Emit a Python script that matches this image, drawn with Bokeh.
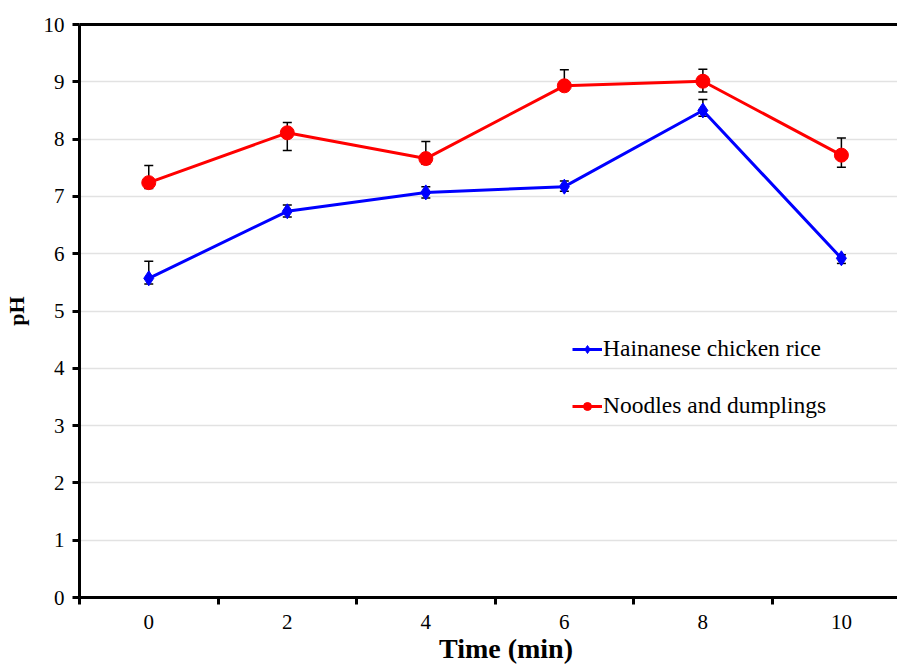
from bokeh.plotting import figure
from bokeh.models import (ColumnDataSource, Whisker, FixedTicker, LinearAxis,
                          Legend, LegendItem, Range1d, TeeHead)
from bokeh.embed import file_html
from bokeh.resources import INLINE

# ---- data ----
time = [0, 2, 4, 6, 8, 10]
hcr_ph = [5.57, 6.74, 7.07, 7.17, 8.50, 5.92]
hcr_err_up = [0.30, 0.11, 0.10, 0.10, 0.19, 0.06]
hcr_err_down = [0.10, 0.10, 0.10, 0.08, 0.10, 0.09]
nd_ph = [7.24, 8.11, 7.66, 8.93, 9.01, 7.72]
nd_err_up = [0.30, 0.18, 0.30, 0.28, 0.21, 0.30]
nd_err_down = [0.10, 0.31, 0.10, 0.08, 0.19, 0.21]
y_ticks = [0, 1, 2, 3, 4, 5, 6, 7, 8, 9, 10]
x_sep_ticks = [-1, 1, 3, 5, 7, 9]

FONT = "'Liberation Serif', 'Times New Roman', serif"

hcr = ColumnDataSource(dict(
    x=time, y=hcr_ph,
    upper=[v + e for v, e in zip(hcr_ph, hcr_err_up)],
    lower=[v - e for v, e in zip(hcr_ph, hcr_err_down)]))
nd = ColumnDataSource(dict(
    x=time, y=nd_ph,
    upper=[v + e for v, e in zip(nd_ph, nd_err_up)],
    lower=[v - e for v, e in zip(nd_ph, nd_err_down)]))

p = figure(width=897, height=666, output_backend="svg", toolbar_location=None,
           x_range=Range1d(-1, 10.81), y_range=Range1d(0, 10),
           min_border_left=79, min_border_top=24, min_border_bottom=68,
           min_border_right=0, outline_line_color=None,
           background_fill_color="white", border_fill_color="white")

# grids
p.xgrid.visible = False
p.ygrid.ticker = FixedTicker(ticks=y_ticks)
p.ygrid.grid_line_color = "#e2e2e2"
p.ygrid.grid_line_width = 1.5

# y axis
ya = p.yaxis[0]
ya.ticker = FixedTicker(ticks=y_ticks)
ya.axis_line_width = 3
ya.axis_line_color = "black"
ya.major_tick_line_width = 3
ya.major_tick_out = 7
ya.major_tick_in = 0
ya.minor_tick_line_color = None
ya.major_label_standoff = 8
ya.major_label_text_font = FONT
ya.major_label_text_font_size = "21px"
ya.major_label_text_color = "black"
ya.axis_label = "pH"
ya.axis_label_text_font = FONT
ya.axis_label_text_font_style = "bold"
ya.axis_label_text_font_size = "22px"
ya.axis_label_text_color = "black"
ya.axis_label_standoff = 12

# x axis
xa = p.xaxis[0]
xa.ticker = FixedTicker(ticks=time, minor_ticks=x_sep_ticks)
xa.axis_line_width = 3
xa.axis_line_color = "black"
xa.major_tick_out = 0
xa.major_tick_in = 0
xa.major_tick_line_color = None
xa.minor_tick_out = 7
xa.minor_tick_in = 0
xa.minor_tick_line_width = 3
xa.minor_tick_line_color = "black"
xa.major_label_standoff = 10
xa.major_label_text_font = FONT
xa.major_label_text_font_size = "21px"
xa.major_label_text_color = "black"
xa.major_label_text_line_height = 1.0
# leading no-break spaces shift the centred title right, as in the reference
xa.axis_label = "\u00a0" * 5 + "Time (min)"
xa.axis_label_text_font = FONT
xa.axis_label_text_font_style = "bold"
xa.axis_label_text_font_size = "28px"
xa.axis_label_text_color = "black"
xa.axis_label_text_line_height = 0.85
xa.axis_label_standoff = 1

# top border line
top = LinearAxis(ticker=FixedTicker(ticks=[]), axis_line_width=3,
                 axis_line_color="black", major_tick_line_color=None,
                 minor_tick_line_color=None, major_label_text_font_size="0px")
p.add_layout(top, "above")

# error bars
for src in (hcr, nd):
    w = Whisker(base="x", upper="upper", lower="lower", source=src,
                line_color="black", line_width=1.5,
                upper_head=TeeHead(size=9, line_color="black", line_width=1.5),
                lower_head=TeeHead(size=9, line_color="black", line_width=1.5))
    p.add_layout(w)

# series
l1 = p.line("x", "y", source=hcr, line_color="#0000FF", line_width=3)
m1 = p.scatter("x", "y", source=hcr, marker="diamond", size=15,
               fill_color="#0000FF", line_color="#0000FF")
l2 = p.line("x", "y", source=nd, line_color="#FF0000", line_width=3)
m2 = p.scatter("x", "y", source=nd, marker="circle", size=14,
               fill_color="#FF0000", line_color="#FF0000")

legend = Legend(items=[
    LegendItem(label="Hainanese chicken rice", renderers=[l1, m1]),
    LegendItem(label="Noodles and dumplings", renderers=[l2, m2]),
], location=(493, 178), orientation="vertical",
    border_line_color=None, background_fill_alpha=0,
    padding=0, margin=0, spacing=30, glyph_width=30, glyph_height=20,
    label_height=20, label_standoff=1,
    label_text_font=FONT, label_text_font_size="23.5px", label_text_color="black")
p.add_layout(legend)

open("out.html", "w").write(file_html(p, INLINE))
